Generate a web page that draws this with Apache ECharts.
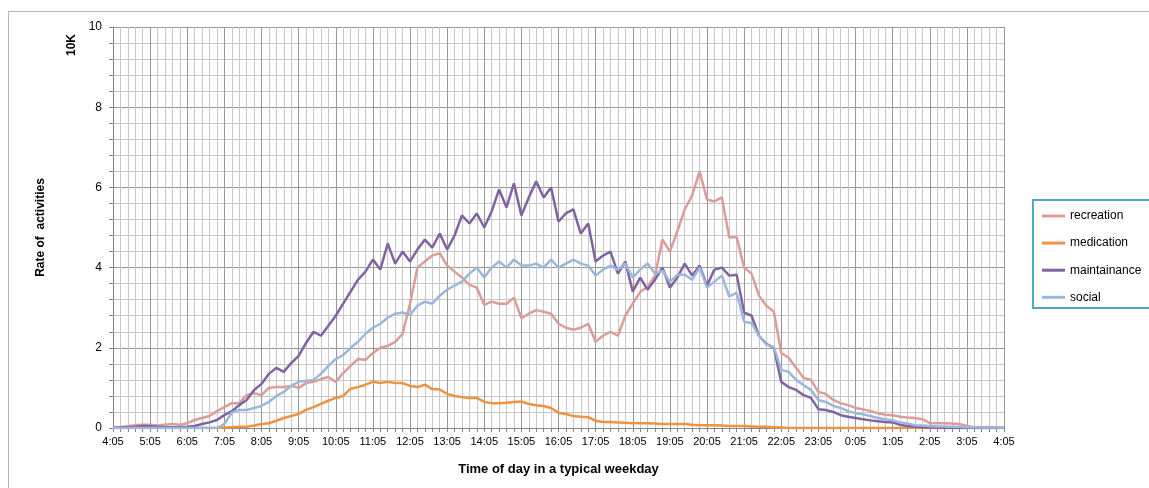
<!DOCTYPE html>
<html>
<head>
<meta charset="utf-8">
<script src="https://cdn.jsdelivr.net/npm/echarts@6/dist/echarts.min.js"></script>
<style>
html,body{margin:0;padding:0;background:#fff;}
#chart{width:1149px;height:488px;}
</style>
</head>
<body>
<div id="chart"></div>
<script>
// Hourly tick labels (4:05 .. 4:05 next day)
const timeLabels = ["4:05","5:05","6:05","7:05","8:05","9:05","10:05","11:05","12:05","13:05","14:05","15:05","16:05","17:05","18:05","19:05","20:05","21:05","22:05","23:05","0:05","1:05","2:05","3:05","4:05"];
// samples every 12 minutes from 4:05 (121 samples), values in units of 10K
const STEP_MIN = 12;
const seriesNames = ["recreation","medication","maintainance","social"];

const recreation = [0,0.02,0.05,0.07,0.08,0.08,0.06,0.08,0.1,0.08,
0.12,0.2,0.25,0.3,0.42,0.52,0.62,0.62,0.82,0.87,
0.82,1.0,1.02,1.02,1.05,1.0,1.12,1.15,1.22,1.27,
1.15,1.37,1.55,1.72,1.7,1.87,2.0,2.05,2.15,2.35,
3.1,4.0,4.15,4.3,4.36,4.05,3.9,3.75,3.57,3.5,
3.07,3.15,3.1,3.1,3.25,2.74,2.85,2.94,2.9,2.85,
2.6,2.5,2.45,2.5,2.6,2.15,2.3,2.4,2.3,2.8,
3.1,3.39,3.52,3.8,4.7,4.4,4.9,5.45,5.8,6.4,
5.7,5.65,5.75,4.75,4.76,4.0,3.85,3.3,3.05,2.9,
1.87,1.75,1.5,1.25,1.2,0.9,0.85,0.7,0.62,0.57,
0.5,0.47,0.42,0.37,0.33,0.32,0.28,0.26,0.25,0.22,
0.12,0.12,0.12,0.11,0.1,0.05,0.02,0.02,0.01,0.01,0];

const medication = [0,0,0,0,0,0,0,0,0,0,
0,0,0,0,0,0.01,0.02,0.03,0.03,0.06,
0.1,0.12,0.18,0.25,0.3,0.35,0.45,0.52,0.6,0.68,
0.75,0.8,0.98,1.02,1.08,1.15,1.12,1.15,1.12,1.12,
1.05,1.02,1.08,0.97,0.96,0.85,0.8,0.77,0.75,0.75,
0.65,0.62,0.62,0.63,0.65,0.66,0.6,0.57,0.55,0.5,
0.38,0.35,0.3,0.28,0.27,0.18,0.15,0.15,0.14,0.13,
0.12,0.12,0.12,0.11,0.1,0.1,0.1,0.1,0.08,0.07,
0.07,0.07,0.06,0.05,0.05,0.05,0.04,0.03,0.03,0.02,
0.01,0,0,0,0,0,0,0,0,0,
0,0,0,0,0,0,0,0,0,0,
0,0,0,0,0,0,0,0,0,0,0];

const maintainance = [0,0.02,0.02,0.03,0.05,0.05,0.03,0.02,0.02,0.02,
0.03,0.05,0.1,0.14,0.2,0.32,0.42,0.57,0.7,0.95,
1.1,1.35,1.5,1.4,1.62,1.8,2.12,2.4,2.3,2.55,
2.8,3.1,3.4,3.7,3.9,4.2,3.95,4.6,4.1,4.4,
4.15,4.45,4.7,4.5,4.85,4.45,4.8,5.3,5.1,5.35,
5.0,5.4,5.95,5.5,6.1,5.3,5.75,6.15,5.75,6.0,
5.15,5.35,5.45,4.85,5.1,4.15,4.3,4.4,3.85,4.15,
3.4,3.75,3.45,3.7,4.0,3.5,3.75,4.1,3.8,4.05,
3.55,3.95,4.0,3.8,3.82,2.88,2.8,2.3,2.1,2.0,
1.15,1.02,0.95,0.82,0.75,0.47,0.45,0.4,0.32,0.28,
0.25,0.22,0.19,0.17,0.15,0.14,0.08,0.05,0.03,0.02,
0.01,0.01,0,0,0,0,0,0,0,0,0];

const social = [0,0,0,0,0,0,0,0,0,0,
0,0,0,0,0,0.1,0.38,0.45,0.45,0.5,
0.55,0.65,0.8,0.9,1.05,1.15,1.18,1.2,1.35,1.55,
1.72,1.82,2.0,2.15,2.35,2.5,2.6,2.75,2.85,2.88,
2.82,3.05,3.15,3.1,3.3,3.45,3.55,3.65,3.85,4.0,
3.75,4.0,4.15,4.0,4.2,4.05,4.05,4.1,4.0,4.2,
4.0,4.1,4.2,4.1,4.05,3.8,3.95,4.05,3.95,4.1,
3.75,3.95,4.1,3.85,3.92,3.65,3.82,3.82,3.7,4.0,
3.5,3.65,3.8,3.28,3.37,2.65,2.62,2.3,2.08,2.02,
1.45,1.4,1.2,1.07,0.95,0.7,0.65,0.55,0.5,0.42,
0.37,0.34,0.3,0.25,0.22,0.19,0.14,0.11,0.07,0.06,
0.05,0.04,0.04,0.03,0.03,0.02,0.02,0.01,0.01,0.01,0];

const colors = ["#dc9c99","#ef9340","#8064a2","#9bb7dc"];
const allData = [recreation, medication, maintainance, social];

function pairs(arr){ return arr.map((v,i)=>[i*STEP_MIN, v]); }

const FONT = "'Liberation Sans', Arial, sans-serif";
const chart = echarts.init(document.getElementById('chart'));
chart.setOption({
  animation:false,
  backgroundColor:'#fff',
  color: colors,
  grid:{left:113, right:145, top:27, bottom:60},
  graphic:[
    {type:'rect', shape:{x:8.5,y:11.5,width:1200,height:500}, style:{fill:'none', stroke:'#b4b4b4', lineWidth:1}, silent:true},
    {type:'rect', shape:{x:1033,y:200,width:130,height:108}, style:{fill:'#fff', stroke:'#4bacc6', lineWidth:2}, z:5},
    {type:'text', x:72, y:45, rotation:Math.PI/2, style:{text:'10K', font:"bold 12px "+FONT, fill:'#000', align:'center', verticalAlign:'middle'}}
  ],
  legend:{
    orient:'vertical', left:1037, top:205, itemWidth:23, itemHeight:3, itemGap:15.1,
    icon:'rect', z:10,
    textStyle:{fontFamily:FONT, fontSize:12, color:'#000'},
    data: seriesNames
  },
  xAxis:{
    type:'value', min:0, max:1440, interval:60,
    name:'Time of day in a typical weekday', nameLocation:'middle', nameGap:35,
    nameTextStyle:{fontFamily:FONT, fontSize:13, fontWeight:'bold', color:'#000'},
    axisLine:{lineStyle:{color:'#868686', width:1}},
    axisTick:{show:true, length:4, lineStyle:{color:'#868686'}},
    minorTick:{show:true, splitNumber:5, length:4, lineStyle:{color:'#868686'}},
    axisLabel:{fontFamily:FONT, fontSize:11, color:'#000', margin:8,
      formatter:function(v){ return timeLabels[Math.round(v/60)]; }},
    splitLine:{show:true, lineStyle:{color:'#989898', width:1}},
    minorSplitLine:{show:true, lineStyle:{color:'#c8c8c8', width:1}}
  },
  yAxis:{
    type:'value', min:0, max:10, interval:2,
    name:'Rate of  activities', nameLocation:'middle', nameGap:66,
    nameTextStyle:{fontFamily:FONT, fontSize:12, fontWeight:'bold', color:'#000'},
    axisLine:{show:true, lineStyle:{color:'#868686', width:1}},
    axisTick:{show:true, length:4, lineStyle:{color:'#868686'}},
    minorTick:{show:true, splitNumber:5, length:4, lineStyle:{color:'#868686'}},
    axisLabel:{fontFamily:FONT, fontSize:12, color:'#000', margin:11},
    splitLine:{show:true, lineStyle:{color:'#989898', width:1}},
    minorSplitLine:{show:true, lineStyle:{color:'#c8c8c8', width:1}}
  },
  series: seriesNames.map((n,k)=>({
    name:n, type:'line', data:pairs(allData[k]), showSymbol:false, symbol:'none',
    lineStyle:{width:2.5, color:colors[k]}, itemStyle:{color:colors[k]}, z:2+k
  }))
});
</script>
</body>
</html>
